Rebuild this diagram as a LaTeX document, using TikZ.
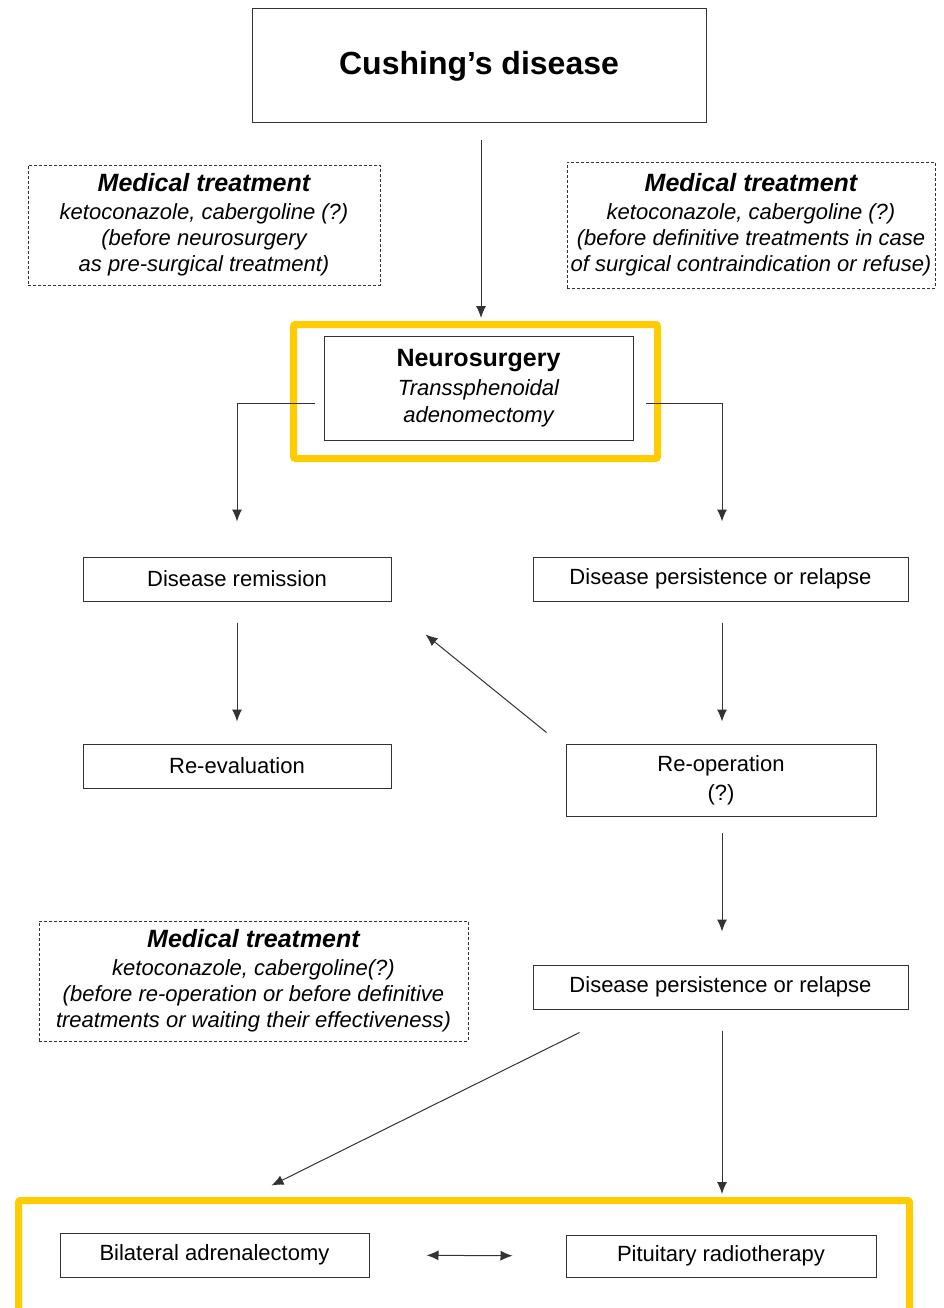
\documentclass[tikz,border=0pt]{standalone}
\usepackage{fontspec}
\setmainfont{Liberation Sans}
\usepackage{tikz}
\usetikzlibrary{positioning, shapes, arrows, arrows.meta}

\definecolor{gold}{HTML}{FFCC00}

\tikzset{
  box/.style={rectangle, draw=black!80, line width=1pt, inner sep=0pt, align=center, font=\fontsize{22}{29}\selectfont},
  medbox/.style={rectangle, draw=black!80, line width=0.9pt, dash pattern=on 3pt off 2pt, inner sep=0pt, align=center, font=\itshape\fontsize{22}{26}\selectfont},
  focus/.style={rectangle, draw=gold, line width=7pt, rounded corners=2pt, inner sep=0pt},
  tip/.tip={Latex[length=12pt, width=10pt]},
  arr/.style={-tip, draw=black!80, line width=1pt}
}

\begin{document}
\begin{tikzpicture}[x=1pt, y=1pt]
  \useasboundingbox (0,0) rectangle (944,-1308);
  \clip (0,0) rectangle (944,-1308);

  % Frames
  \node[focus, minimum width=364pt, minimum height=134pt] (focusA) at (475.5,-391.5) {};
  \node[focus, minimum width=891pt, minimum height=130pt] (focusB) at (464,-1265.5) {};

  % Start
  \node[box, minimum width=454pt, minimum height=114pt, font=\bfseries\fontsize{32}{36}\selectfont] (cushing) at (479,-66) {Cushing’s disease};

  % Medical treatment
  \node[medbox, minimum width=352pt, minimum height=120pt] (medA) at (204,-225)
    {{\bfseries\fontsize{25}{28}\selectfont Medical treatment}\\[2pt] ketoconazole, cabergoline (?)\\ (before neurosurgery\\ as pre-surgical treatment)};
  \node[medbox, minimum width=368pt, minimum height=126pt] (medB) at (751,-225)
    {{\bfseries\fontsize{25}{28}\selectfont Medical treatment}\\[2pt] ketoconazole, cabergoline (?)\\ (before definitive treatments in case\\ of surgical contraindication or refuse)};
  \node[medbox, minimum width=429pt, minimum height=120pt] (medC) at (253.5,-981)
    {{\bfseries\fontsize{25}{28}\selectfont Medical treatment}\\[2pt] ketoconazole, cabergoline(?)\\ (before re-operation or before definitive\\ treatments or waiting their effectiveness)};

  % Surgery
  \node[box, minimum width=309pt, minimum height=104pt] (neuro) at (478.5,-388)
    {{\bfseries\fontsize{25}{28}\selectfont Neurosurgery}\\ \itshape Transsphenoidal\\[-2pt] \itshape adenomectomy};

  % Outcomes
  \node[box, minimum width=308pt, minimum height=44pt] (remission) at (237,-579) {Disease remission};
  \node[box, minimum width=375pt, minimum height=44pt] (persistA) at (720.5,-579) {Disease persistence or relapse};
  \node[box, minimum width=308pt, minimum height=44pt] (reeval) at (237,-766) {Re-evaluation};
  \node[box, minimum width=310pt, minimum height=72pt] (reop) at (721,-780) {Re-operation\\(?)};
  \node[box, minimum width=375pt, minimum height=44pt] (persistB) at (720.5,-987) {Disease persistence or relapse};

  % Definitive treatments
  \node[box, minimum width=309pt, minimum height=44pt] (adrenal) at (214.5,-1255) {Bilateral adrenalectomy};
  \node[box, minimum width=310pt, minimum height=42pt] (radio) at (721,-1256) {Pituitary radiotherapy};

  % Connectors
  \draw[arr, shorten <=17pt, shorten >=3pt] ([xshift=2pt]cushing.south) -- ([xshift=2pt]cushing.south |- focusA.north);
  \draw[arr, shorten >=35pt] ([xshift=-9pt,yshift=-15pt]neuro.west) -| (remission.north);
  \draw[arr, shorten >=35pt] ([xshift=12pt,yshift=-15pt]neuro.east) -| ([xshift=1.5pt]persistA.north);
  \draw[arr, shorten <=21pt, shorten >=22pt] (remission.south) -- (reeval.north);
  \draw[arr, shorten <=21pt, shorten >=22pt] ([xshift=1.5pt]persistA.south) -- ([xshift=1pt]reop.north);
  \draw[arr] ([xshift=-19pt,yshift=11pt]reop.north west) -- ([xshift=34pt,yshift=-33pt]remission.south east);
  \draw[arr, shorten <=16pt, shorten >=33pt] ([xshift=1pt]reop.south) -- ([xshift=1.5pt]persistB.north);
  \draw[arr] ([xshift=47pt,yshift=-23pt]persistB.south west) -- ([xshift=57pt,yshift=47pt]adrenal.north);
  \draw[arr, shorten <=21pt, shorten >=3pt] ([xshift=1.5pt]persistB.south) -- ([xshift=1.5pt]persistB.south |- focusB.north);
  \draw[tip-tip, draw=black!80, line width=1pt, shorten <=57pt, shorten >=53pt] (adrenal.east) -- (radio.west);
\end{tikzpicture}
\end{document}
